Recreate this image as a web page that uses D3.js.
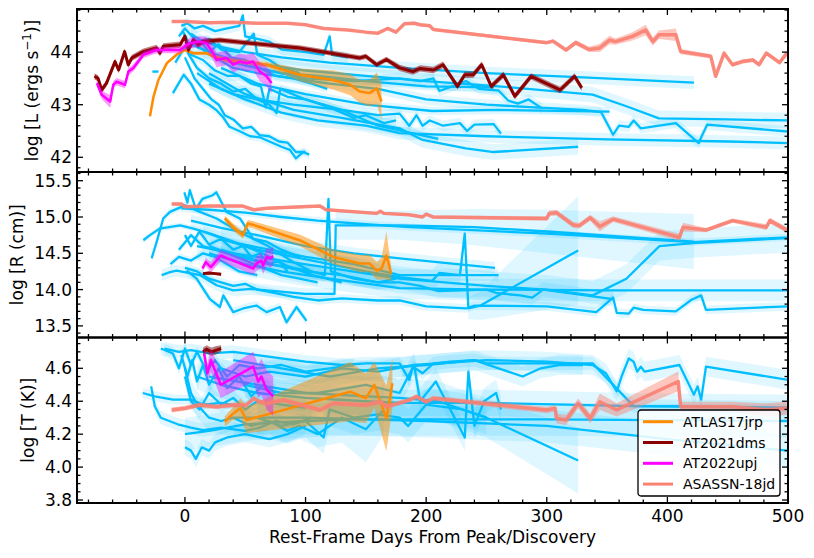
<!DOCTYPE html>
<html>
<head>
<meta charset="utf-8">
<script src="https://cdn.jsdelivr.net/npm/d3@7"></script>
<style>
  body { margin: 0; background: #fff; }
  text { font-family: "DejaVu Sans", sans-serif; fill: #000; }
</style>
</head>
<body>
<svg id="chart" width="814" height="558"></svg>
<script>
// ---- data ----
var names = ['ATLAS17jrp', 'AT2021dms', 'AT2022upj', 'ASASSN-18jd'];
var dayTicks = [0, 100, 200, 300, 400, 500];
var lumTicks = [42, 43, 44];
var radTicks = [13.5, 14.0, 14.5, 15.0, 15.5];
var tempTicks = [3.8, 4.0, 4.2, 4.4, 4.6];

// comparison sample, [day, value] (optional 3rd = error)
var lumBlue = [
  [[5,44.35],[15,44.2],[30,44.1],[50,44.0],[80,43.9],[120,43.8],[178,43.7],[250,43.6],[330,43.52],[422,43.42]],
  [[0,44.2],[20,44.0],[40,43.85],[70,43.75],[100,43.65],[150,43.55],[200,43.45],[260,43.35],[338,43.19],[366,42.97],[393,42.74],[450,42.72],[500,42.7]],
  [[10,43.6],[30,43.3],[50,43.1],[80,42.85],[110,42.7],[150,42.6],[178,42.46],[250,42.4],[350,42.34],[450,42.3],[500,42.27]],
  [[25,43.9],[40,43.7],[60,43.6],[90,43.5],[120,43.4],[160,43.3],[200,43.1],[250,43.0],[290,42.95],[330,42.9],[345,42.86],[355,42.43],[360,42.6],[368,42.58],[372,42.7],[378,42.55],[407,42.65],[426,42.27],[429,42.43],[433,42.62],[500,42.49]],
  [[30,43.7],[60,43.4],[100,43.2],[150,43.0],[205,42.88],[260,42.9],[352,42.87]],
  [[20,43.6],[50,43.2],[90,42.9],[130,42.75],[178,42.55],[197,42.33],[233,42.17],[256,42.1],[326,42.2]],
  [[10,44.1],[30,43.9],[50,43.75],[80,43.6],[110,43.55],[150,43.45],[200,43.35],[256,43.33]],
  [[15,44.0],[40,43.8],[70,43.65],[100,43.5],[140,43.45],[178,43.5],[195,43.45],[206,43.5],[211,43.26],[228,43.4],[233,43.45],[244,43.3],[260,43.27],[268,43.08],[276,43.02],[285,43.1],[296,42.93]],
  [[20,43.4],[40,43.2],[60,43.1],[90,43.0],[110,42.95],[130,42.9],[160,42.8],[178,42.83],[186,42.6],[192,42.8],[197,42.6],[203,42.7],[214,42.6],[228,42.65],[234,42.5],[240,42.62],[256,42.63],[262,42.45]],
  [[-10,43.22],[-1,43.57],[5,43.4],[12,43.1],[20,43.0],[26,42.9],[32,42.75],[37,42.58],[45,42.5],[54,42.4],[62,42.38],[70,42.3],[80,42.2],[87,42.14],[92,41.98],[98,42.1],[103,42.05]],
  [[0,43.9],[8,43.5],[15,43.3],[22,43.1],[28,43.0],[33,42.8],[40,42.72],[48,42.55],[55,42.58],[62,42.42],[70,42.4],[78,42.3],[85,42.28],[92,42.1],[100,42.1]],
  [[2,44.0],[10,43.7],[20,43.5],[30,43.4],[40,43.25],[50,43.3],[60,43.1],[70,43.0],[76,42.84],[79,43.3],[100,43.1],[130,42.9],[160,42.6],[190,42.45],[210,42.35]],
  [[-3,44.5],[2,44.55],[8,44.45],[15,44.5],[25,44.4],[35,44.45],[45,44.5],[48,44.7],[50,44.3],[60,44.25],[70,44.2],[80,44.05],[100,44.0],[115,43.95],[120,44.3],[122,43.95],[135,43.9]],
  [[-5,44.3],[0,44.45],[10,44.2],[20,44.25],[30,44.05],[45,44.0],[57,44.35],[60,43.95],[70,43.85],[80,43.7],[95,43.6]],
  [[-8,43.8],[0,44.1],[5,43.95],[15,43.85],[25,43.65],[35,43.55],[45,43.55],[55,43.4],[63,43.35],[67,42.95],[70,43.3],[85,43.15],[100,43.1],[120,42.95],[140,42.75],[150,42.8],[165,42.65],[175,42.7]],
  [[-27,43.63],[-22,43.63]],
  [[-2,44.4],[5,44.1],[12,44.25],[20,44.0],[28,44.15],[38,43.9],[50,43.85],[62,43.7],[75,43.55],[90,43.5],[105,43.4],[118,43.3]]
];
var lumBlueErr = [0.12,0.15,0.12,0.1,0.08,0.15,0.08,0.1,0.1,0.08,0.06,0.08,0.1,0.08,0.1,0.03,0.08];

var radBlue = [
  [[-34.5,14.68],[-29,14.75],[-21,14.84],[-4,14.885],[7,14.84],[21,14.77],[40,14.66],[62,14.52],[84,14.33],[106,14.2],[130,14.1]],
  [[-27.6,14.43],[-23.5,14.655],[-18,14.98],[-12.4,15.07],[0,15.16],[12.4,15.07],[26.2,14.98],[45.6,14.79],[67.7,14.61],[89.8,14.38],[106,14.24]],
  [[-19.3,14.2],[-12.4,14.24],[-6.9,14.26],[12.4,14.2],[26.2,14.06],[40,13.99],[55,14.01],[67.7,13.99],[100,13.94],[124,13.94],[125,14.885,0.2],[178,14.885,0.2],[240,14.86,0.25],[300,14.8,0.3],[422,14.66,0.38]],
  [[-3,15.12],[20,15.1],[50,15.06],[80,15.0],[110,14.95],[150,14.9],[186,14.86],[300,14.77],[421,14.655],[500,14.72]],
  [[-0.5,15.34],[2,15.2],[4,15.37],[9,15.11],[14.5,15.25],[23,15.3],[26,15.34],[34.5,15.07],[45.6,14.98],[56.6,14.7],[67.7,14.66],[80,14.55],[95,14.45]],
  [[1.4,14.26],[9.7,14.15],[20.7,13.87],[29,13.76],[31.8,13.92],[40,13.69],[48.3,13.74],[59.3,13.78],[67.7,13.69],[78.7,13.76],[84.2,13.55],[92.5,13.76],[100.8,13.57]],
  [[0,14.3],[10,14.25],[20,14.15],[30,14.1],[40,14.05],[50,14.08],[60,14.0],[75,13.95],[90,13.9],[110,13.85],[130,13.88],[160,13.85],[178,13.85],[200,13.77],[233,13.74],[240,13.78],[300,13.77],[341,13.69],[355,13.89],[358,13.68],[368,13.67],[372,13.75],[380,13.72],[407,13.70],[420,13.86],[428,13.92],[432,13.72],[500,13.77]],
  [[20,14.5],[50,14.35],[80,14.25],[120,14.15],[178,14.02],[250,14.0],[350,13.99],[500,13.99]],
  [[10,14.6],[40,14.5],[80,14.4],[120,14.3],[178,14.15],[250,14.05],[300,14.0],[338,13.92],[366,14.15],[393.5,14.6],[421,14.64],[500,14.71]],
  [[30,14.7],[60,14.55],[90,14.45],[120,14.35],[150,14.25],[178,14.17],[205,14.12],[211,14.23],[228,14.2],[232,14.77],[235,13.74,0.15],[245,13.78,0.2],[326,14.54,0.75]],
  [[5,14.95],[30,14.85],[60,14.75],[100,14.6],[140,14.5],[178,14.43],[257,14.30]],
  [[15,14.8],[40,14.65],[70,14.55],[100,14.45],[140,14.35],[178,14.2],[260,14.2]],
  [[20,14.6],[45,14.45],[70,14.35],[100,14.25],[130,14.2],[160,14.1],[178,14.1],[195,14.05],[210,13.98],[250,14.0],[259,13.95],[278,13.92],[288,13.89],[297,14.0],[355,13.87]],
  [[30,14.55],[50,14.45],[70,14.35],[90,14.3],[105,14.25],[116,14.2],[119,15.25],[121,14.25],[140,14.15],[160,14.1],[175,14.15]],
  [[0,14.75],[5,14.6],[12,14.8],[20,14.62],[30,14.7],[40,14.55],[48,14.6],[55,14.45],[62,14.5],[70,14.35],[78,14.4],[85,14.25]],
  [[-5,14.55],[5,14.75],[15,14.6],[25,14.55],[35,14.5],[50,14.4],[65,14.3],[80,14.2],[95,14.15],[110,14.1]],
  [[-12,14.35],[-5,14.45],[5,14.4],[15,14.5],[25,14.45],[35,14.35],[45,14.25],[60,14.2]]
];
var radBlueErr = [0.04,0.05,0.08,0.05,0.05,0.06,0.06,0.15,0.2,0.15,0.08,0.08,0.1,0.1,0.05,0.05,0.05];

var tempBlue = [
  [[-17,4.72],[-5,4.70],[5,4.71],[20,4.69],[40,4.70],[60,4.68],[80,4.66],[100,4.64],[130,4.62],[150,4.63],[178,4.63],[186,4.53],[189,4.61],[197,4.57],[206,4.63],[220,4.64],[240,4.65],[250,4.63],[270,4.63],[338,4.63],[372,4.37],[420,4.37],[500,4.36]],
  [[30,4.60],[50,4.55],[70,4.58],[100,4.55],[130,4.6],[160,4.58],[190,4.62],[250,4.65],[300,4.64],[338,4.62],[349,4.57],[358,4.46],[362,4.55],[368,4.66],[372,4.64],[375,4.58],[378,4.61],[381,4.58],[410,4.62],[422,4.44],[425,4.49],[428,4.41],[432,4.61],[500,4.53]],
  [[10,4.55],[30,4.50],[60,4.45],[100,4.42],[150,4.40],[178,4.39],[250,4.39],[372,4.37],[500,4.36]],
  [[0,4.2],[20,4.22],[50,4.26],[100,4.28],[137,4.29],[178,4.29],[300,4.29],[500,4.28]],
  [[20,4.55],[60,4.5],[100,4.45],[150,4.43],[178,4.42],[210,4.40],[250,4.30],[326,4.04,0.2]],
  [[40,4.3],[100,4.3],[200,4.28],[300,4.25],[400,4.17],[500,4.10]],
  [[-35,4.45],[-25,4.43],[-10,4.41],[5,4.41],[15,4.38],[30,4.39],[45,4.37]],
  [[-28,4.49],[-25,4.37],[-20,4.3],[-6,4.26],[5,4.24],[15,4.225],[30,4.24],[50,4.22],[62,4.24],[75,4.28],[90,4.26],[105,4.3]],
  [[0,4.12],[5,4.10],[9,4.05],[14,4.12],[20,4.10],[25,4.15],[35,4.18],[50,4.2],[70,4.17],[85,4.2],[100,4.25]],
  [[-3,4.68],[2,4.55],[6,4.65],[10,4.52],[15,4.62],[20,4.5],[28,4.6],[35,4.48],[45,4.55],[55,4.43],[65,4.5],[75,4.45]],
  [[0,4.6],[5,4.45],[10,4.38],[20,4.3],[30,4.28],[40,4.3],[55,4.25],[70,4.28],[85,4.22],[95,4.25],[110,4.20],[130,4.3,0.15],[150,4.23,0.2],[165,4.35,0.15]],
  [[50,4.5],[80,4.45],[110,4.45],[150,4.5],[178,4.45],[190,4.62],[195,4.4],[208,4.52],[220,4.35],[232,4.18],[235,4.58],[240,4.25],[248,4.4],[258,4.45],[262,4.35]],
  [[40,4.65],[80,4.6],[120,4.55],[160,4.6],[200,4.62],[240,4.65],[260,4.60],[280,4.55],[295,4.60],[310,4.62],[330,4.62]],
  [[-20,4.72],[-10,4.69],[-5,4.6],[0,4.72],[5,4.62],[10,4.7],[18,4.58],[25,4.65],[35,4.55],[45,4.62],[60,4.6],[80,4.62],[100,4.58],[120,4.6],[140,4.62]],
  [[0,4.55],[5,4.4],[12,4.35],[20,4.45],[30,4.38],[40,4.42],[50,4.35],[60,4.4],[80,4.38],[100,4.36]],
  [[60,4.3],[80,4.25],[100,4.28],[115,4.18],[120,4.35],[140,4.3],[160,4.32],[178,4.3],[185,4.25],[200,4.38],[230,4.35],[250,4.3]]
];
var tempBlueErr = [0.04,0.06,0.08,0.1,0.12,0.1,0.03,0.04,0.05,0.05,0.08,0.08,0.06,0.04,0.05,0.1];

// highlighted events, [day, value, error]
var atlasLum = [[-29,42.78,0.03],[-26,43.16,0.03],[-22,43.47,0.03],[-15,43.79,0.03],[-7,43.95,0.03],[0,44.04,0.03],[7,43.98,0.03],[18,43.98,0.03],[23.5,43.92,0.04],[34.5,43.85,0.05],[68,43.76,0.05],[95,43.57,0.12],[123,43.47,0.18],[137,43.38,0.2],[145,43.25,0.22],[153,43.22,0.25],[159,43.31,0.3],[163,43.06,0.35]];
var atlasRad = [[33,14.98,0.04],[40,14.86,0.05],[48,14.75,0.05],[52,14.91,0.05],[57,14.89,0.05],[95,14.68,0.08],[123,14.45,0.1],[145,14.36,0.12],[153,14.36,0.12],[159,14.26,0.12],[163,14.29,0.15],[167,14.47,0.33],[171,14.22,0.1]];
var atlasTemp = [[33,4.276,0.03],[40,4.326,0.04],[46,4.357,0.06],[51,4.286,0.08],[137,4.458,0.18],[150,4.418,0.15],[157,4.499,0.14],[167,4.296,0.2],[172,4.509,0.15]];

var dmsLum = [[-75,43.54,0.06],[-72,43.5,0.06],[-69,43.28,0.06],[-65,43.41,0.06],[-58,43.82,0.06],[-55,43.66,0.06],[-50,44.01,0.06],[-47,43.76,0.06],[-44,43.89,0.06],[-34.5,44.01,0.06],[-23.5,44.08,0.06],[-20.7,43.98,0.06],[-18,44.11,0.06],[-4,44.14,0.06],[0,44.3,0.06],[2.8,44.04,0.06],[6.9,44.23,0.06],[11,44.14,0.06],[15,44.2,0.06],[29,44.23,0.05],[54,44.17,0.05],[95,44.08,0.05],[145,43.89,0.05],[150,43.92,0.05],[159,43.76,0.05],[167,43.86,0.05],[178,43.7,0.06],[189,43.63,0.06],[195,43.69,0.06],[206,43.66,0.06],[214,43.76,0.06],[226,43.35,0.06],[232,43.57,0.06],[239,43.57,0.06],[246,43.76,0.06],[254,43.35,0.06],[264,43.57,0.06],[273.5,43.16,0.06],[287,43.54,0.06],[311,43.28,0.06],[323,43.54,0.06],[329,43.32,0.06]];
var dmsRad = [[15,14.22,0.02],[20,14.23,0.02],[25,14.22,0.02],[30,14.21,0.02]];
var dmsTemp = [[15,4.70,0.025],[18,4.715,0.025],[22,4.70,0.025],[26,4.71,0.025],[30,4.72,0.02]];

var upjLum = [[-73,43.41,0.07],[-69,43.19,0.08],[-62,43.06,0.12],[-59.4,43.38,0.07],[-56.6,43.44,0.07],[-49.7,43.38,0.07],[-46.9,43.63,0.07],[-42.8,43.70,0.07],[-34.5,43.95,0.06],[-23.5,44.04,0.06],[-4.1,44.04,0.06],[0,44.11,0.08],[4.1,44.17,0.1],[12.4,44.2,0.1],[17.9,44.17,0.12],[23.5,43.98,0.14],[26.2,43.85,0.14],[34.5,43.89,0.14],[40,43.76,0.15],[45.6,43.82,0.15],[51,43.79,0.16],[56.6,43.82,0.17],[62,43.63,0.18],[67.7,43.54,0.19],[71.8,43.41,0.2]];
var upjRad = [[14.5,14.29,0.04],[17.3,14.38,0.06],[21.5,14.31,0.07],[29.7,14.47,0.08],[35.3,14.43,0.08],[56.6,14.29,0.09],[59.3,14.36,0.1],[63.4,14.4,0.11],[64.8,14.33,0.12],[67.7,14.45,0.12],[70.4,14.43,0.13],[73.2,14.46,0.13]];
var upjTemp = [[15.9,4.69,0.04],[18.6,4.57,0.06],[21.5,4.65,0.07],[29.7,4.50,0.08],[56.6,4.61,0.09],[60.7,4.52,0.1],[63.4,4.55,0.11],[67.7,4.47,0.12],[70.4,4.45,0.12],[73.2,4.43,0.12]];

var asassnLum = [[-11,44.58,0.02],[0,44.58,0.02],[20,44.56,0.02],[40,44.57,0.02],[60,44.55,0.02],[85,44.55,0.02],[100,44.52,0.02],[115,44.45,0.02],[135,44.42,0.02],[150,44.38,0.02],[160,44.36,0.02],[168,44.45,0.03],[175,44.38,0.03],[182,44.54,0.03],[190,44.55,0.03],[195,44.52,0.03],[203,44.5,0.03],[206,44.43,0.03],[300,44.18,0.03],[305,44.21,0.03],[316,44.04,0.04],[324,44.18,0.05],[335,44.05,0.05],[344,44.08,0.08],[352,44.23,0.08],[357,44.2,0.06],[371,44.3,0.08],[382,44.42,0.1],[388,44.2,0.08],[393,44.33,0.08],[407,44.33,0.12],[411,44.01,0.05],[436,43.92,0.04],[440,43.54,0.04],[447,43.98,0.04],[454,43.76,0.04],[462,43.82,0.04],[471,43.85,0.04],[476,43.76,0.04],[482,43.98,0.04],[493,43.8,0.04],[499,43.98,0.04]];
var asassnRad = [[-11,15.18,0.02],[-3,15.18,0.02],[0,15.14,0.02],[20,15.15,0.02],[48,15.15,0.02],[57,15.10,0.02],[68,15.12,0.02],[112,15.15,0.02],[117,15.10,0.02],[159,15.05,0.02],[162,15.08,0.02],[165,15.05,0.02],[186,15.03,0.02],[197,15.0,0.02],[200,15.04,0.02],[206,15.0,0.02],[300,14.98,0.03],[302,15.05,0.04],[308,15.06,0.04],[322,14.89,0.04],[327,14.88,0.04],[336,14.99,0.04],[344,14.87,0.07],[355,14.97,0.04],[410,14.72,0.05],[413,14.86,0.06],[432,14.82,0.03],[454,14.95,0.03],[482,14.86,0.04],[485,14.95,0.04],[499,14.82,0.04]];
var asassnTemp = [[-11,4.347,0.015],[0,4.357,0.015],[12,4.377,0.015],[26,4.367,0.015],[40,4.377,0.015],[51,4.377,0.015],[57,4.418,0.015],[62,4.397,0.015],[68,4.387,0.015],[82,4.407,0.015],[112,4.347,0.015],[123,4.387,0.015],[150,4.377,0.015],[162,4.397,0.015],[167,4.367,0.015],[186,4.407,0.015],[192,4.428,0.015],[200,4.397,0.015],[206,4.418,0.015],[300,4.347,0.02],[307,4.357,0.02],[308,4.296,0.03],[316,4.286,0.03],[326,4.387,0.03],[336,4.296,0.03],[344,4.397,0.05],[358,4.347,0.04],[409,4.52,0.06],[411,4.367,0.03],[454,4.367,0.03],[482,4.347,0.04],[499,4.357,0.04]];

// ---- drawing ----
var svg = d3.select('#chart');
var plotLeft = 77, plotRight = 788;
var x = d3.scaleLinear().domain([-89.5, 500]).range([plotLeft, plotRight]);

var blue = '#00bfff';
var namedColors = ['#ff8c00', '#8b0000', '#ff00ff', '#fa8072'];
var namedWidth = [2.5, 3, 2.5, 3.5];
var namedBandOpacity = [0.5, 0.5, 0.4, 0.45];

var panels = [
  {id: 'lum', top: 9, bottom: 172, domain: [41.72, 44.82], ticks: lumTicks, minor: 0.2,
   fmt: d3.format('d'), labelX: 38, blue: lumBlue, err: lumBlueErr,
   named: [atlasLum, dmsLum, upjLum, asassnLum]},
  {id: 'rad', top: 172, bottom: 337.5, domain: [13.34, 15.62], ticks: radTicks, minor: 0.1,
   fmt: d3.format('.1f'), labelX: 23, blue: radBlue, err: radBlueErr,
   named: [atlasRad, dmsRad, upjRad, asassnRad]},
  {id: 'temp', top: 337.5, bottom: 503, domain: [3.782, 4.787], ticks: tempTicks, minor: 0.05,
   fmt: d3.format('.1f'), labelX: 34, blue: tempBlue, err: tempBlueErr,
   named: [atlasTemp, dmsTemp, upjTemp, asassnTemp]}
];

var defs = svg.append('defs');

panels.forEach(function(p, pi) {
  var y = d3.scaleLinear().domain(p.domain).range([p.bottom, p.top]);
  defs.append('clipPath').attr('id', 'clip-' + p.id)
    .append('rect')
    .attr('x', plotLeft).attr('y', p.top)
    .attr('width', plotRight - plotLeft).attr('height', p.bottom - p.top);

  var plot = svg.append('g').attr('clip-path', 'url(#clip-' + p.id + ')');
  var line = d3.line().x(function(d) { return x(d[0]); }).y(function(d) { return y(d[1]); });

  function band(e) {
    return d3.area()
      .x(function(d) { return x(d[0]); })
      .y0(function(d) { return y(d[1] - (d[2] != null ? d[2] : e)); })
      .y1(function(d) { return y(d[1] + (d[2] != null ? d[2] : e)); });
  }

  // comparison sample
  p.blue.forEach(function(c, i) {
    plot.append('path').datum(c)
      .attr('d', band(p.err[i]))
      .attr('fill', blue).attr('fill-opacity', 0.12);
    plot.append('path').datum(c)
      .attr('d', line)
      .attr('fill', 'none').attr('stroke', blue)
      .attr('stroke-width', 2.3).attr('stroke-linejoin', 'round');
  });

  // highlighted events
  p.named.forEach(function(s, i) {
    plot.append('path').datum(s)
      .attr('d', band(0))
      .attr('fill', namedColors[i]).attr('fill-opacity', namedBandOpacity[i]);
    plot.append('path').datum(s)
      .attr('d', line)
      .attr('fill', 'none').attr('stroke', namedColors[i])
      .attr('stroke-opacity', i == 3 ? 0.9 : 1)
      .attr('stroke-width', namedWidth[i]).attr('stroke-linejoin', 'round');
  });

  // ticks
  var ax = svg.append('g').attr('stroke', '#000').attr('stroke-width', 1.3);
  var xMinor = d3.range(-80, 501, 20);
  xMinor.forEach(function(d) {
    var len = dayTicks.indexOf(d) >= 0 ? 6 : 3.5;
    ax.append('line').attr('x1', x(d)).attr('x2', x(d))
      .attr('y1', p.bottom).attr('y2', p.bottom - len);
    ax.append('line').attr('x1', x(d)).attr('x2', x(d))
      .attr('y1', p.top).attr('y2', p.top + len);
  });
  var n0 = Math.ceil(p.domain[0] / p.minor - 1e-6), n1 = Math.floor(p.domain[1] / p.minor + 1e-6);
  d3.range(n0, n1 + 1).forEach(function(k) {
    var v = k * p.minor;
    var isMajor = p.ticks.some(function(t) { return Math.abs(t - v) < 1e-6; });
    var len = isMajor ? 6 : 3.5;
    ax.append('line').attr('x1', plotLeft).attr('x2', plotLeft + len)
      .attr('y1', y(v)).attr('y2', y(v));
    ax.append('line').attr('x1', plotRight).attr('x2', plotRight - len)
      .attr('y1', y(v)).attr('y2', y(v));
  });

  // tick labels
  p.ticks.forEach(function(t) {
    svg.append('text')
      .attr('x', plotLeft - 5).attr('y', y(t))
      .attr('dy', '0.36em')
      .attr('text-anchor', 'end')
      .attr('font-size', 17)
      .text(p.fmt(t));
  });

  // frame
  svg.append('rect')
    .attr('x', plotLeft).attr('y', p.top)
    .attr('width', plotRight - plotLeft).attr('height', p.bottom - p.top)
    .attr('fill', 'none').attr('stroke', '#000').attr('stroke-width', 2);

  // y label
  var cy = (p.top + p.bottom) / 2;
  var lab = svg.append('text')
    .attr('transform', 'translate(' + p.labelX + ',' + cy + ') rotate(-90)')
    .attr('text-anchor', 'middle')
    .attr('font-size', 17);
  if (p.id == 'lum') {
    lab.append('tspan').text('log [L (ergs s');
    lab.append('tspan').attr('dy', -7).attr('font-size', 12).text('\u22121');
    lab.append('tspan').attr('dy', 7).text(')]');
  } else if (p.id == 'rad') {
    lab.text('log [R (cm)]');
  } else {
    lab.text('log [T (K)]');
  }
});

// x tick labels on the bottom panel
dayTicks.forEach(function(d) {
  svg.append('text')
    .attr('x', x(d)).attr('y', 522)
    .attr('text-anchor', 'middle')
    .attr('font-size', 17)
    .text(d);
});
svg.append('text')
  .attr('x', (plotLeft + plotRight) / 2).attr('y', 543)
  .attr('text-anchor', 'middle')
  .attr('font-size', 17)
  .text('Rest-Frame Days From Peak/Discovery');

// legend
var lg = svg.append('g').attr('transform', 'translate(638,410)');
lg.append('rect')
  .attr('width', 142).attr('height', 86).attr('rx', 3)
  .attr('fill', '#fff').attr('fill-opacity', 0.85)
  .attr('stroke', '#000').attr('stroke-width', 1.3);
names.forEach(function(n, i) {
  var yy = 11.7 + i * 20.8;
  lg.append('line')
    .attr('x1', 5).attr('x2', 35).attr('y1', yy).attr('y2', yy)
    .attr('stroke', namedColors[i]).attr('stroke-width', 3);
  lg.append('text')
    .attr('x', 45).attr('y', yy).attr('dy', '0.36em')
    .attr('font-size', 14)
    .text(n);
});
</script>
</body>
</html>
